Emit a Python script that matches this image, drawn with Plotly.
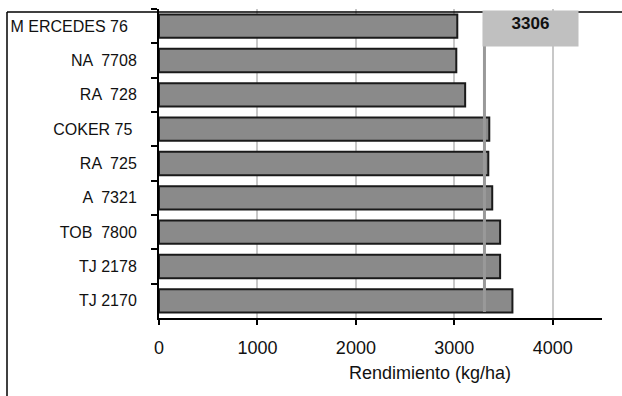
import plotly.graph_objects as go

NB = "\u00a0"
categories = ["M ERCEDES 76" + NB * 2, "NA  7708", "RA  728", "COKER 75" + NB,
              "RA  725", "A  7321", "TOB  7800", "TJ 2178", "TJ 2170"]
rendimiento = [3030, 3020, 3110, 3355, 3345, 3385, 3465, 3465, 3590]
promedio = 3306
x_ticks = [0, 1000, 2000, 3000, 4000]

W, H = 622, 396
ml, mr, mt, mb = 159, 20, 9, 78
pw, ph = W - ml - mr, H - mt - mb

def px_x(p):
    return (p - ml) / pw

def px_y(p):
    return (H - mb - p) / ph

fig = go.Figure()
fig.add_trace(go.Bar(
    y=categories, x=rendimiento, orientation="h",
    marker=dict(color="#8a8a8a", line=dict(color="#1a1a1a", width=2)),
    width=0.68,
))

fig.update_layout(
    width=W, height=H,
    margin=dict(l=ml, r=mr, t=mt, b=mb),
    plot_bgcolor="white", paper_bgcolor="white",
    showlegend=False,
    font=dict(family="Liberation Sans, Arial", size=16, color="#111"),
    xaxis=dict(range=[0, 4500], tickvals=x_ticks, ticktext=[str(v) for v in x_ticks],
               showgrid=True, gridcolor="#c8c8c8", gridwidth=1.5,
               showline=True, linecolor="black", linewidth=2,
               ticks="outside", ticklen=5, tickcolor="black", tickwidth=2,
               ticklabelstandoff=7, zeroline=False,
               tickfont=dict(size=18)),
    yaxis=dict(autorange="reversed", showline=True, linecolor="black", linewidth=2,
               ticks="outside", tickson="boundaries", ticklen=6, tickcolor="black", tickwidth=2,
               showgrid=False, tickfont=dict(size=16), ticklabelstandoff=17),
)

# frame around chart (top and left edges)
fig.add_shape(type="line", xref="paper", yref="paper",
              x0=px_x(7), x1=px_x(640), y0=px_y(12), y1=px_y(12),
              line=dict(color="black", width=1.5))
fig.add_shape(type="line", xref="paper", yref="paper",
              x0=px_x(7), x1=px_x(7), y0=px_y(12), y1=px_y(420),
              line=dict(color="black", width=1.5))

# average line
fig.add_shape(type="line", xref="x", yref="paper", x0=promedio, x1=promedio,
              y0=px_y(312), y1=px_y(22), line=dict(color="#999999", width=3))

fig.add_annotation(x=promedio, y=px_y(10), xref="x", yref="paper",
                   xanchor="left", yanchor="top", xshift=-2,
                   text="<b>%d</b>" % promedio, showarrow=False,
                   width=89, height=29, bgcolor="#c0c0c0", align="center",
                   valign="top", borderpad=3,
                   font=dict(size=17, color="#111"))

fig.add_annotation(x=px_x(430), y=px_y(373), xref="paper", yref="paper",
                   xanchor="center", yanchor="middle",
                   text="Rendimiento (kg/ha)", showarrow=False,
                   font=dict(size=18, color="#111"))

fig.write_html("out.html")
